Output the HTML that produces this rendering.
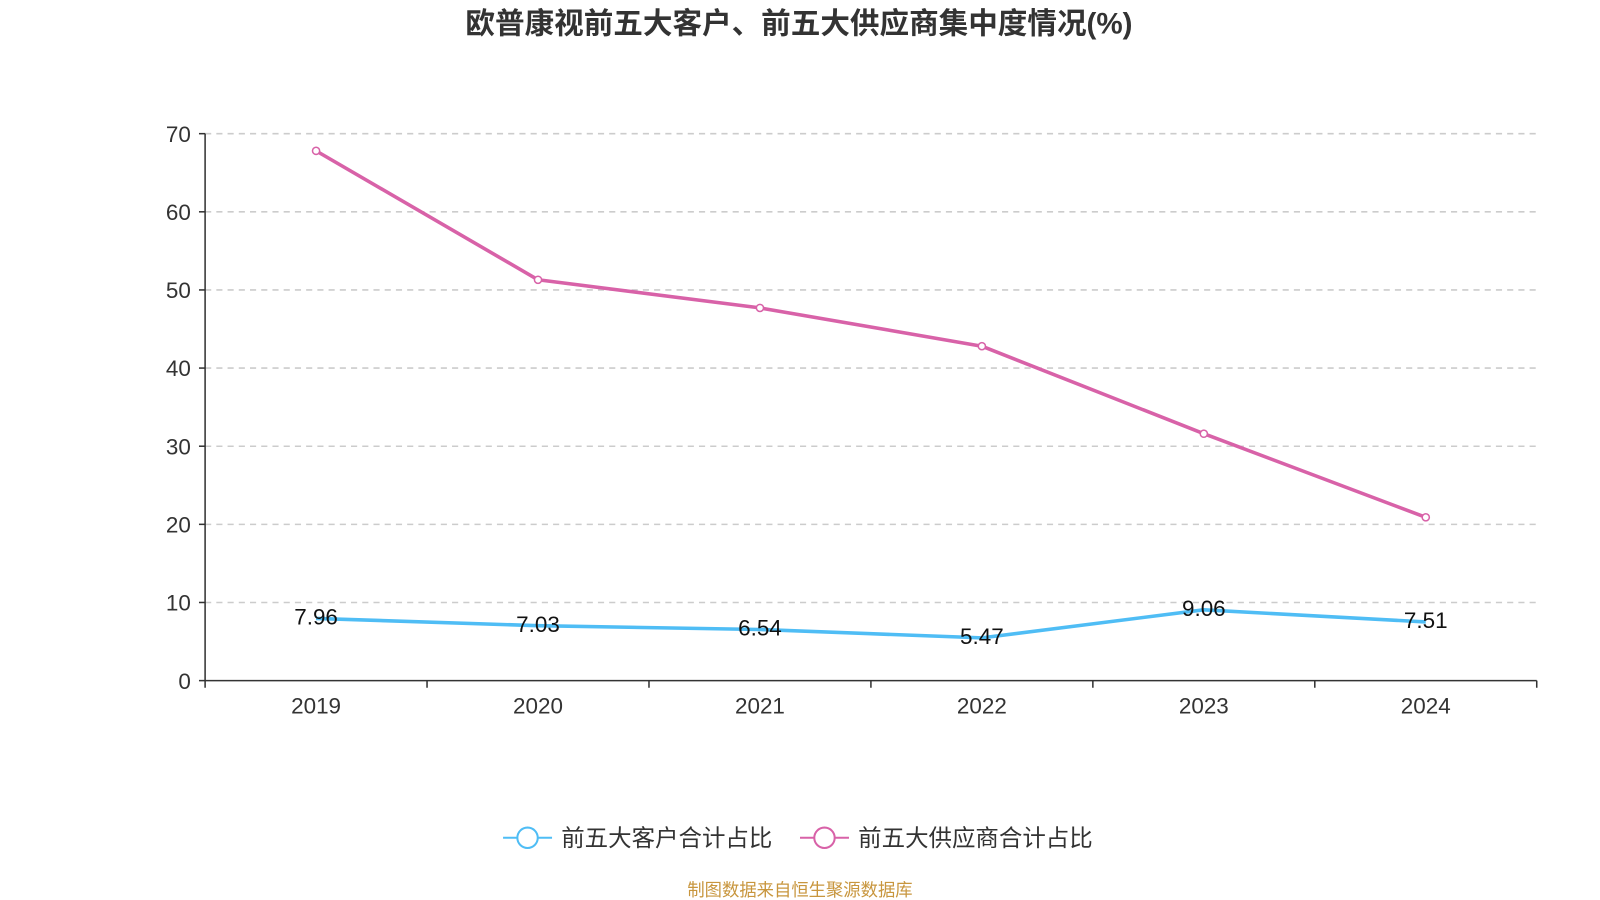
<!DOCTYPE html>
<html><head><meta charset="utf-8">
<style>
html,body{margin:0;padding:0;background:#fff;width:1600px;height:900px;overflow:hidden}
svg text{font-family:"Liberation Sans","Noto Sans CJK SC",sans-serif}
</style></head>
<body>
<svg id="chart" width="1600" height="900" viewBox="0 0 1568 882" xmlns="http://www.w3.org/2000/svg">
<text x="783" y="33" text-anchor="middle" font-size="29" font-weight="bold" fill="#333">欧普康视前五大客户、前五大供应商集中度情况(%)</text>
<g id="grid"></g>
<g id="axes"></g>
<g id="series"></g>
<g>
<g>
<line x1="493" y1="821" x2="541" y2="821" stroke="#4fbdf5" stroke-width="2"/>
<circle cx="517" cy="821" r="10" fill="#fff" stroke="#4fbdf5" stroke-width="2"/>
<text x="550" y="829" font-size="23" fill="#333">前五大客户合计占比</text>
</g>
<g>
<line x1="784" y1="821" x2="832" y2="821" stroke="#d862a8" stroke-width="2"/>
<circle cx="808" cy="821" r="10" fill="#fff" stroke="#d862a8" stroke-width="2"/>
<text x="841" y="829" font-size="23" fill="#333">前五大供应商合计占比</text>
</g>
</g>
<text x="784" y="878" text-anchor="middle" font-size="17" fill="#c8963e">制图数据来自恒生聚源数据库</text>
</svg>
<script>
const categories=["2019","2020","2021","2022","2023","2024"];
const customerValues=[7.96,7.03,6.54,5.47,9.06,7.51];
const supplierValues=[67.8,51.3,47.7,42.8,31.6,20.9];
const yTicks=[0,10,20,30,40,50,60,70];

const NS="http://www.w3.org/2000/svg";
const x0=201,x1=1506,y0=667,y1=131,yMax=70;
const band=(x1-x0)/categories.length;
const xs=i=>x0+band*(i+0.5);
const ys=v=>y0-(v/yMax)*(y0-y1);
function mk(tag,attrs,parent,text){const e=document.createElementNS(NS,tag);for(const k in attrs)e.setAttribute(k,attrs[k]);if(text!=null)e.textContent=text;parent.appendChild(e);return e;}
const grid=document.getElementById('grid'),axes=document.getElementById('axes'),series=document.getElementById('series');
yTicks.forEach(t=>{
  const y=ys(t);
  if(t>0){const g=mk('line',{x1:x0,x2:x1,y1:y,y2:y,stroke:'#ccc','stroke-width':1.5,'stroke-dasharray':'6,5'},grid);
  
  }
  mk('line',{x1:x0-6,x2:x0,y1:y,y2:y,stroke:'#333','stroke-width':1.5},axes);
  const l=mk('text',{x:x0-14,y:y+8,'text-anchor':'end','font-size':22,fill:'#333'},axes,String(t));
  
  
});
mk('line',{x1:x0,x2:x0,y1:y1,y2:y0,stroke:'#333','stroke-width':1.5},axes);
mk('line',{x1:x0,x2:x1,y1:y0,y2:y0,stroke:'#333','stroke-width':1.5},axes);
for(let i=0;i<=categories.length;i++){const x=x0+band*i;mk('line',{x1:x,x2:x,y1:y0,y2:y0+7,stroke:'#333','stroke-width':1.5},axes);}
categories.forEach((c,i)=>{
  const l=mk('text',{x:xs(i),y:y0+32,'text-anchor':'middle','font-size':22,fill:'#333'},axes,c);
  
  
});
function drawLine(vals,color,name,labels){
  const p=mk('polyline',{points:vals.map((v,i)=>xs(i)+','+ys(v)).join(' '),fill:'none',stroke:color,'stroke-width':3.5,'stroke-linejoin':'round'},series);
  
  
  vals.forEach((v,i)=>{
    if(!labels){const c=mk('circle',{cx:xs(i),cy:ys(v),r:3.5,fill:'#fff',stroke:color,'stroke-width':1.5},series);
    
    }
    else{const t=mk('text',{x:xs(i),y:ys(v)+6,'text-anchor':'middle','font-size':22,fill:'#111'},series,v.toFixed(2));
    
    }
  });
}
drawLine(supplierValues,'#d862a8','supplier',false);
drawLine(customerValues,'#4fbdf5','customer',true);
</script>
</body></html>
